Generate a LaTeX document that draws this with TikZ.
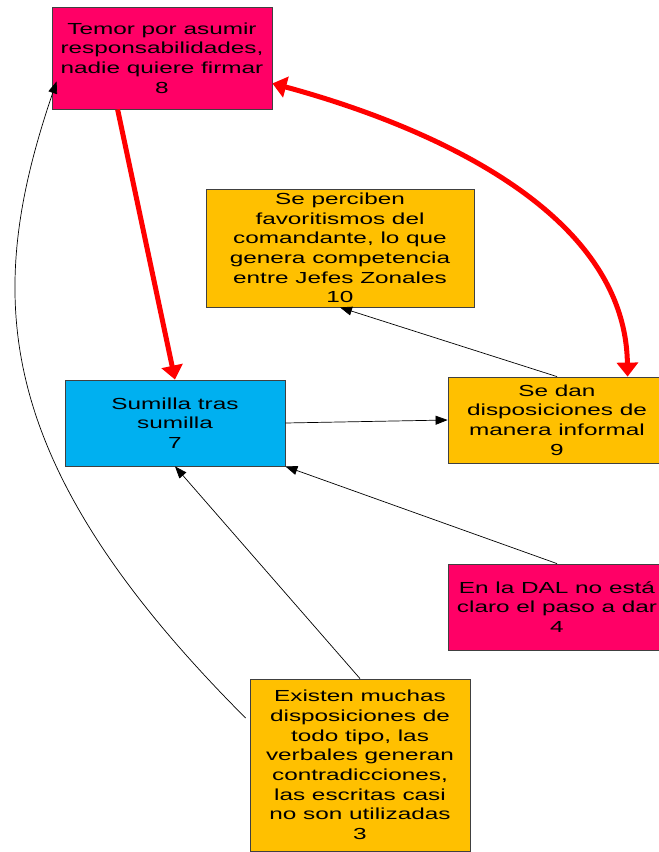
\documentclass[tikz,border=0pt]{standalone}
\usepackage{fontspec}
\setmainfont{Liberation Sans}[FakeStretch=1.52]
\usetikzlibrary{arrows.meta,calc}
\definecolor{boxpink}{HTML}{FF0066}
\definecolor{boxorange}{HTML}{FFC000}
\definecolor{boxblue}{HTML}{00B0F0}
\definecolor{hotred}{HTML}{FF0000}
\begin{document}
\begin{tikzpicture}[x=1pt,y=-1pt,
  box/.style={draw=black!75,line width=0.8pt,inner sep=0pt,align=center,
    font=\fontsize{16}{19.7}\selectfont},
  link/.style={draw=black,line width=0.7pt,-{Triangle[length=12pt,width=9pt]}},
  hot/.style={draw=hotred,line width=5pt,-{Triangle[length=14pt,width=21pt]}}]
\useasboundingbox[fill=white] (0,0) rectangle (659,852);

% boxes
\node[box,fill=boxpink,minimum width=220pt,minimum height=102pt] (n8) at (162,58)
  {Temor por asumir\\responsabilidades,\\nadie quiere firmar\\8};
\node[box,fill=boxorange,minimum width=268pt,minimum height=118pt] (n10) at (340,248)
  {Se perciben\\favoritismos del\\comandante, lo que\\genera competencia\\entre Jefes Zonales\\10};
\node[box,fill=boxblue,minimum width=220pt,minimum height=86pt] (n7) at (175,423)
  {Sumilla tras\\sumilla\\7};
\node[box,fill=boxorange,minimum width=218pt,minimum height=86pt] (n9) at (557,420)
  {Se dan\\disposiciones de\\manera informal\\9};
\node[box,fill=boxpink,minimum width=218pt,minimum height=86pt] (n4) at (557,607)
  {En la DAL no está\\claro el paso a dar\\4};
\node[box,fill=boxorange,minimum width=220pt,minimum height=172pt] (n3) at (360,765)
  {Existen muchas\\disposiciones de\\todo tipo, las\\verbales generan\\contradicciones,\\las escritas casi\\no son utilizadas\\3};

% strong links
\draw[hot] ($(n8.south west)+(66,0)$) -- (n7.north);
\draw[hot,{Triangle[length=14pt,width=21pt]}-{Triangle[length=14pt,width=21pt]}]
  ($(n9.north west)+(180,0)$) .. controls (625,200) and (400,118) .. ($(n8.south east)+(0,-26)$);

% ordinary links
\draw[link] (n9.north) -- (n10.south);
\draw[link] (n7.east) -- (n9.west);
\draw[link] (n4.north) -- (n7.south east);
\draw[link] (n3.north) -- (n7.south);
\draw[link] ($(n3.west)+(-4,-47)$) .. controls (-14,458) and (-15,292) .. ($(n8.south west)+(5,-28)$);
\end{tikzpicture}
\end{document}
